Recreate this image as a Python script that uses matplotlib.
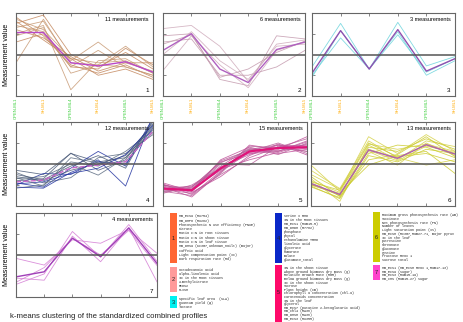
import matplotlib
matplotlib.use("Agg")
import matplotlib.pyplot as plt
from matplotlib.patches import Rectangle

W, H = 464, 322

conditions = ["OPEN-ML1", "SH-ML1", "OPEN-ML4", "SH-ML4", "OPEN-ML5", "SH-ML5"]
cond_colors = ["#33cc33", "#ffaa00"] * 3

# cluster 1 (11 measurements)
c1_lines = [
    [1.7, 1.2, -0.2, -0.4, -0.3, -0.9],
    [1.5, 1.9, 0.0, -0.6, 0.1, -0.7],
    [1.3, 1.6, -0.3, 0.6, -0.4, -0.8],
    [1.8, 0.9, -0.5, -0.9, -0.5, -1.1],
    [-0.4, 1.7, -0.4, -0.5, -0.6, -1.0],
    [0.6, 1.0, -0.6, -0.7, 0.3, -0.5],
    [1.0, 1.4, -1.7, -0.3, -0.2, -0.9],
    [1.6, 0.7, -0.2, -1.0, -0.7, -1.2],
    [0.9, 1.3, -0.9, -0.5, 0.4, -0.6],
    [1.2, 0.8, -0.1, -0.8, -0.4, -0.4],
    [1.4, 1.1, -0.6, 0.2, -0.6, -1.0],
]
c1_mean = [1.06, 1.06, -0.4, -0.55, -0.35, -0.85]

# cluster 2 (6 measurements)
c2_lines = [
    [1.25, 1.4, 0.4, -1.3, 0.5, 0.7],
    [0.9, 1.0, -1.2, -1.5, 0.9, 0.75],
    [-0.77, 0.9, -0.5, -1.6, 0.2, 0.6],
    [0.6, 0.75, -1.0, -1.0, -0.6, 0.2],
    [0.0, 1.1, -0.3, -1.2, 0.4, 0.5],
    [0.5, 0.95, -1.1, -0.7, 0.1, 0.65],
]
c2_mean = [0.2, 1.0, -0.7, -1.35, 0.24, 0.6]

# cluster 3 (3 measurements)
c3_lines = [
    [-0.6, 1.5, -0.7, 1.55, -0.55, -0.1],
    [-1.1, 1.15, -0.7, 1.1, -1.0, -0.3],
    [-1.0, 0.8, -0.7, 0.95, -0.85, -0.2],
]
c3_mean = [-0.9, 1.15, -0.7, 1.2, -0.8, -0.2]

# cluster 4 (12 measurements)
c4_lines = [
    [-0.3, -0.5, 0.5, 0.1, 0.3, 1.8],
    [-0.9, -1.1, -0.2, 0.6, -0.1, 2.2],
    [-1.15, -1.0, 0.1, -0.1, 0.6, 1.6],
    [-0.6, -0.8, -0.3, 0.0, 0.4, 1.9],
    [-1.0, -0.45, -0.5, 0.2, -1.05, 2.3],
    [-0.4, -0.9, -0.65, 0.3, 0.5, 1.4],
    [-0.8, -0.7, 0.52, -0.3, 0.2, 2.0],
    [-1.1, -1.15, -0.4, 0.1, 0.0, 1.7],
    [-0.7, -0.6, 0.0, -0.53, 0.3, 1.5],
    [-0.5, -0.75, -0.1, 0.4, -0.2, 2.1],
    [-0.95, -0.85, -0.45, -0.2, 0.45, 1.85],
    [-0.65, -1.05, 0.3, 0.05, 0.1, 1.75],
]
c4_mean = [-0.85, -0.77, -0.19, -0.05, 0.11, 1.56]

# cluster 5 (15 measurements)
c5_lines = [
    [-1.0, -1.2, -0.3, 0.7, 0.9, 0.6],
    [-1.3, -1.1, 0.1, 0.5, 0.6, 1.1],
    [-1.2, -1.4, -0.5, 0.3, 0.8, 0.9],
    [-0.9, -1.3, 0.2, 0.8, 0.5, 0.7],
    [-1.4, -1.0, -0.2, 0.6, 1.0, 0.5],
    [-1.1, -1.57, -0.4, 0.9, 0.7, 1.3],
    [-1.25, -1.2, 0.0, -0.05, 0.85, 0.8],
    [-1.05, -1.35, -0.6, 0.4, 0.95, 0.43],
    [-1.35, -1.15, -0.1, 0.75, 0.45, 1.0],
    [-0.95, -1.45, -0.35, 0.55, 0.65, 0.75],
    [-1.15, -1.25, 0.15, 0.65, 0.8, 1.2],
    [-1.2, -1.05, -0.25, 0.2, 0.55, 0.95],
    [-1.3, -1.5, -0.45, 0.85, 0.75, 0.6],
    [-1.0, -1.3, -0.15, 0.45, 0.9, 0.85],
    [-1.1, -1.1, 0.05, 0.7, 0.6, 1.05],
]
c5_mean = [-1.17, -1.25, -0.21, 0.6, 0.76, 0.8]

# cluster 6 (13 measurements)
c6_lines = [
    [-0.9, -1.5, 0.7, 0.3, 0.9, 0.5],
    [-0.05, -1.3, 1.3, 0.5, 1.4, 0.6],
    [-1.09, -1.6, 0.5, 0.9, 0.8, 0.3],
    [-0.7, -1.78, 0.9, 0.2, 1.1, 0.83],
    [-1.0, -1.4, -0.05, 0.4, 0.6, -0.45],
    [-0.5, -1.2, 0.6, -0.05, 1.0, 0.4],
    [-0.95, -1.5, 0.8, 0.6, 1.2, 0.7],
    [-0.3, -1.17, 1.1, 0.3, -0.05, 0.2],
    [-1.05, -1.65, 0.4, 0.1, 0.7, 0.5],
    [-0.8, -1.35, 0.95, 0.7, 0.95, 0.6],
    [-0.6, -1.55, 0.2, 0.45, 1.3, 0.35],
    [-1.0, -1.45, 0.65, 0.15, 0.85, 0.55],
    [-0.85, -1.25, 1.0, 0.35, 0.5, 0.1],
]
c6_mean = [-0.93, -1.45, 0.67, 0.27, 0.92, 0.47]

# cluster 7 (4 measurements)
c7_lines = [
    [-0.16, -0.48, 0.72, 0.56, 1.2, 0.08],
    [-1.4, -0.9, 1.12, -0.1, 1.45, -0.3],
    [-1.1, -1.2, 0.9, -0.32, 1.3, -1.28],
    [-1.3, -0.6, 0.8, 0.0, 1.17, -0.5],
]
c7_mean = [-1.04, -0.8, 0.8, -0.08, 1.29, -0.4]

# legend text per cluster
legend_1 = ["Hm_ECS9 (RU754)", "Hm_DHP6 (RU262)",
            "Photosynthetic N use efficiency (PNUE)", "nitrate",
            "Ratio C:N in root tissues", "Ratio C:N in Shoot tissue",
            "Ratio C:N in leaf tissue", "Hm_DHS9 (KC307,unknown_noilt) (major)",
            "caffeic acid", "Light compensation point (Ic)",
            "Dark respiration rate (Rd)"]
legend_2 = ["octadecanoic acid", "alpha-linolenic acid", "%C in the Root tissues",
            "2-methylcitrate", "MCOS2", "FLIS8"]
legend_3 = ["Specific leaf area  (SLA)", "Quantum yield (φ)", "lactate"]
legend_4 = ["serine I MHO", "%N in the Root tissues", "Hm_ECS1 (Ram15.5)",
            "Hm_DHD8 (M7762)", "phosphate", "phytol", "ethanolamine TMHO",
            "linoleic acid", "glycerate", "fumarate", "malate", "glutamate_total"]
legend_5 = ["%N in the Shoot tissue", "Above ground biomass dry mass (g)",
            "Relative Growth Rate (RGR)", "Below ground biomass dry mass (g)",
            "%C in the Shoot tissue", "sucrose", "Plant height (cm)",
            "Chlorophyll a concentration (Chl-a)", "Carotenoids concentration",
            "%N in the leaf", "glycerol", "Hm_ECS7 (putative 2-ketoglutaric acid)",
            "Hm_Chl4 (RA3n)", "Hm_DHS8 (RA3n)", "Hm_ECS3 (RU355)"]
legend_6 = ["Maximum gross photosynthesis rate (Am)", "succinate",
            "Net photosynthesis rate (PN)", "Number of leaves",
            "Light saturation point (Is)", "Hm_ECS8 (RC307,Ram27.71, major pyruv",
            "%C in the leaf", "putrescine", "threonate", "gluconate", "cystine",
            "fructose Meox 1", "sucrose total"]
legend_7 = ["Hm_ECS1 (Hm_ECS8 Meox 1,Ram17.13)", "Hm_ECS9 (sugar)",
            "Hm_ECS3 (Ram15.19)", "Hm_CHS (Ram15.27) sugar"]

plt.rcParams["font.family"] = ["Liberation Sans", "DejaVu Sans"]
fig = plt.figure(figsize=(W / 100, H / 100), dpi=100)


def px_axes(x0, y0, x1, y1):
    return fig.add_axes([x0 / W, 1 - y1 / H, (x1 - x0) / W, (y1 - y0) / H])


def draw_panel(box, lines, mean, member_colors, mean_color, num, mean_lw=1.0,
               mean_ls="-", xlabels=False, ylabel=False):
    ax = px_axes(*box)
    x = range(len(conditions))
    for i, ln in enumerate(lines):
        ax.plot(x, ln, color=member_colors[i % len(member_colors)], lw=0.6, alpha=0.85)
    ax.plot(x, mean, color=mean_color, lw=mean_lw, ls=mean_ls)
    ax.axhline(0, color="#555555", lw=1.1)
    ax.set_xlim(0, 5)
    ax.set_ylim(-2, 2)
    ax.set_xticks(list(x))
    ax.set_yticks([-1, 1])
    ax.set_yticklabels([])
    ax.tick_params(direction="in", length=2, width=0.5, top=True, colors="#555555")
    if xlabels:
        ax.set_xticklabels(conditions, rotation=90, fontsize=3)
        for lbl, c in zip(ax.get_xticklabels(), cond_colors):
            lbl.set_color(c)
        ax.tick_params(axis="x", pad=1.5)
    else:
        ax.set_xticklabels([])
    if ylabel:
        ax.set_ylabel("Measurement value", fontsize=5, labelpad=1)
    for sp in ax.spines.values():
        sp.set_color("#666666")
        sp.set_linewidth(0.8)
    ax.text(0.97, 0.95, f"{len(lines)} measurements", transform=ax.transAxes,
            ha="right", va="top", fontsize=4)
    ax.text(0.97, 0.04, str(num), transform=ax.transAxes, ha="right", va="bottom",
            fontsize=4.5)
    return ax


draw_panel((16, 13, 153, 96), c1_lines, c1_mean, ["#c89a74", "#c4885e"], "#b848c8", 1,
           xlabels=True, ylabel=True)
draw_panel((163, 13, 305, 96), c2_lines, c2_mean, ["#cfabbb", "#c49aae"], "#b060c0", 2,
           xlabels=True)
draw_panel((312, 13, 455, 96), c3_lines, c3_mean, ["#6cd4dc"], "#9050b0", 3,
           xlabels=True)
draw_panel((16, 122, 153, 206), c4_lines, c4_mean, ["#4a5a78", "#2233a0", "#5a6a80"],
           "#c868c8", 4, mean_ls="--", ylabel=True)
draw_panel((163, 122, 307, 206), c5_lines, c5_mean, ["#b8609a", "#c0509a"], "#e0137a", 5,
           mean_lw=1.6)
draw_panel((311, 122, 455, 206), c6_lines, c6_mean, ["#cccc30", "#d6d24a"], "#b060b0", 6)
draw_panel((16, 213, 157, 297), c7_lines, c7_mean, ["#d47cd4"], "#a040b8", 7, ylabel=True)

# legend blocks drawn on a full-figure overlay in pixel units
ov = fig.add_axes([0, 0, 1, 1])
ov.set_xlim(0, W)
ov.set_ylim(H, 0)
ov.axis("off")

# (number, colour, left, top, box height, line step, items)
blocks = [
    (1, "#ff6633", 170, 213, 50, 4.3, legend_1),
    (2, "#ff9a9a", 170, 267, 25, 4.0, legend_2),
    (3, "#00f0f0", 170, 296, 12, 3.8, legend_3),
    (4, "#0a28c8", 275, 213, 50, 4.0, legend_4),
    (5, "#ff0a6a", 275, 265, 60, 3.6, legend_5),
    (6, "#cccc00", 373, 212, 50, 3.75, legend_6),
    (7, "#ff44cc", 373, 265, 15, 3.6, legend_7),
]
for num, color, bx, by, bh, step, items in blocks:
    ov.add_patch(Rectangle((bx, by), 7, bh, facecolor=color, edgecolor="none",
                           clip_on=False))
    ov.text(bx + 3.5, by + bh / 2 if bh < 58 else by + 27, str(num), ha="center",
            va="center", fontsize=4, color="#222222")
    for i, item in enumerate(items):
        ov.text(bx + 9, by + 1.2 + i * step, item, ha="left", va="top",
                fontsize=2.4, family=["Liberation Mono", "DejaVu Sans Mono"],
                color="#222222", clip_on=False)

fig.text(10 / W, 1 - 316 / H, "k-means clustering of the standardized combined profiles",
         ha="left", va="center", fontsize=5.6, color="#222222")

plt.savefig("out.png", dpi=100)
print("Saved: out.png")
